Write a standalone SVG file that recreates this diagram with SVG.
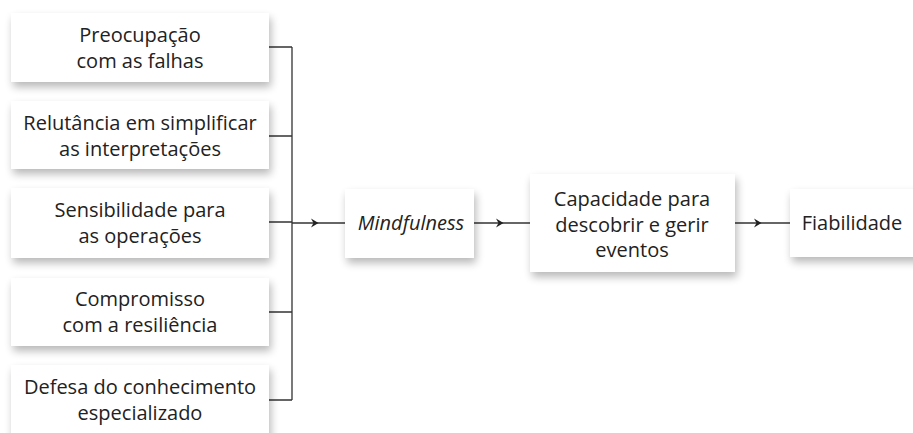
<svg xmlns="http://www.w3.org/2000/svg" width="913" height="433" viewBox="0 0 913 433">
<defs>
<filter id="sh" x="-20%" y="-30%" width="140%" height="170%">
<feGaussianBlur in="SourceAlpha" stdDeviation="4.5"/>
<feOffset dx="2" dy="5" result="b"/>
<feComponentTransfer><feFuncA type="linear" slope="0.28"/></feComponentTransfer>
<feMerge><feMergeNode/><feMergeNode in="SourceGraphic"/></feMerge>
</filter>
<marker id="ah" viewBox="0 0 8 10" refX="7" refY="5" markerWidth="8" markerHeight="10" markerUnits="userSpaceOnUse" orient="auto">
<path d="M0,0.5 L7.5,5 L0,9.5 L2.5,5 Z" fill="#222"/>
</marker>
<style>
.box{fill:#fff;filter:url(#sh)}
.t{font-family:"Open Sans","Noto Sans","DejaVu Sans",sans-serif;font-size:20px;fill:#222;text-anchor:middle}
.i{font-style:italic}
.ln{stroke:#333;stroke-width:1.3;fill:none}
.ar{marker-mid:url(#ah)}
</style>
</defs>
<rect width="913" height="433" fill="#fff"/>
<g id="connectors">
<path class="ln" d="M269,47 H292 M269,136 H292 M269,222 H292 M269,312 H292 M269,400 H292 M292,47 V400"/>
<path class="ln ar" d="M292,223 L318,223 L345,223"/>
<path class="ln ar" d="M474,223 L503,223 L530,223"/>
<path class="ln ar" d="M735,223 L761,223 L790,223"/>
</g>
<g id="n1"><rect class="box" x="11" y="13" width="258" height="69"/>
<text class="t" x="140" y="42">Preocupação</text><text class="t" x="140" y="68">com as falhas</text></g>
<g id="n2"><rect class="box" x="11" y="101" width="258" height="68"/>
<text class="t" x="140" y="130">Relutância em simplificar</text><text class="t" x="140" y="156">as interpretações</text></g>
<g id="n3"><rect class="box" x="11" y="188" width="258" height="70"/>
<text class="t" x="140" y="217">Sensibilidade para</text><text class="t" x="140" y="243">as operações</text></g>
<g id="n4"><rect class="box" x="11" y="278" width="258" height="68"/>
<text class="t" x="140" y="306">Compromisso</text><text class="t" x="140" y="332">com a resiliência</text></g>
<g id="n5"><rect class="box" x="11" y="365" width="258" height="80"/>
<text class="t" x="140" y="394">Defesa do conhecimento</text><text class="t" x="140" y="420">especializado</text></g>
<g id="n6"><rect class="box" x="345" y="189" width="129" height="69"/>
<text class="t i" x="411" y="230">Mindfulness</text></g>
<g id="n7"><rect class="box" x="530" y="174" width="205" height="98"/>
<text class="t" x="632" y="206">Capacidade para</text><text class="t" x="632" y="232">descobrir e gerir</text><text class="t" x="632" y="257">eventos</text></g>
<g id="n8"><rect class="box" x="790" y="189" width="140" height="68"/>
<text class="t" x="852" y="230">Fiabilidade</text></g>
</svg>
